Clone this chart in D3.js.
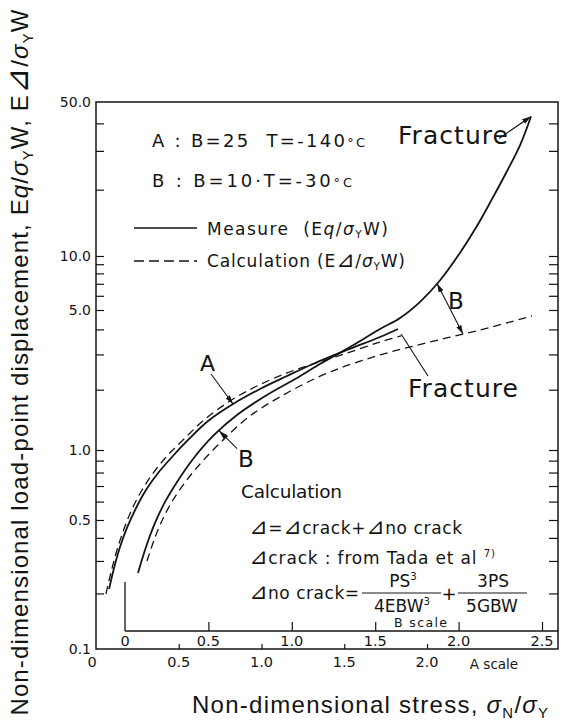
<!DOCTYPE html>
<html>
<head>
<meta charset="utf-8">
<script src="https://cdn.jsdelivr.net/npm/d3@7"></script>
<style>
  html, body { margin: 0; padding: 0; background: #fff; }
  svg { display: block; }
  text { fill: #141414; font-family: "DejaVu Sans", "Noto Sans CJK JP", sans-serif; }
</style>
</head>
<body>
<svg id="chart" width="565" height="722"></svg>
<script>
// Case A (B=25, T=-140°C) read on the A scale; case B (B=10, T=-30°C) on the B scale.
// y: Eq/σYW (measured) or E⊿/σYW (calculated)
const aMeasureX = [0.079, 0.109, 0.145, 0.187, 0.242, 0.302, 0.375, 0.459, 0.556, 0.677, 0.828, 0.991, 1.154, 1.311, 1.517, 1.716, 1.825];
const aMeasureY = [0.211, 0.275, 0.357, 0.453, 0.563, 0.673, 0.796, 0.933, 1.122, 1.396, 1.697, 2.016, 2.341, 2.688, 3.157, 3.667, 4.019];

const aCalcX = [0.060, 0.091, 0.127, 0.169, 0.218, 0.278, 0.350, 0.435, 0.532, 0.653, 0.810, 0.973, 1.154, 1.311, 1.517, 1.716, 1.843];
const aCalcY = [0.199, 0.261, 0.344, 0.447, 0.558, 0.673, 0.804, 0.952, 1.135, 1.412, 1.757, 2.087, 2.424, 2.688, 3.050, 3.461, 3.709];

const bMeasureX = [0.078, 0.126, 0.180, 0.240, 0.312, 0.408, 0.528, 0.671, 0.851, 1.031, 1.169, 1.349, 1.529, 1.649, 1.769, 1.888, 2.008, 2.110, 2.200, 2.290, 2.368, 2.434];
const bMeasureY = [0.258, 0.357, 0.482, 0.598, 0.729, 0.915, 1.175, 1.495, 1.882, 2.288, 2.688, 3.268, 4.019, 4.560, 5.553, 7.305, 10.33, 13.68, 18.11, 24.25, 31.76, 42.99];

const bCalcX = [0.132, 0.168, 0.210, 0.270, 0.348, 0.450, 0.582, 0.749, 0.971, 1.229, 1.529, 1.829, 2.128, 2.440];
const bCalcY = [0.300, 0.375, 0.470, 0.580, 0.707, 0.871, 1.109, 1.478, 1.926, 2.452, 2.981, 3.461, 3.973, 4.667];

// Axis ticks
const yLabelValues = [0.1, 0.5, 1, 5, 10, 50];
const yLabelTexts = ["0.1", "0.5", "1.0", "5.0", "10.0", "50.0"];
const yMinorValues = [0.2, 0.3, 0.4, 0.6, 0.7, 0.8, 0.9, 2, 3, 4, 6, 7, 8, 9, 20, 30, 40];
const aScaleValues = [0, 0.5, 1, 1.5, 2];
const aScaleTexts = ["0", "0.5", "1.0", "1.5", "2.0"];
const bScaleValues = [0, 0.5, 1, 1.5, 2, 2.5];
const bScaleTexts = ["0", "0.5", "1.0", "1.5", "2.0", "2.5"];

const svg = d3.select("#chart");
const frame = { left: 96, right: 558, top: 102, bottom: 649 };
const bAxisY = 631;

// hand-drawn log axis: each labelled segment placed on its own
const y = d3.scaleLog()
  .domain(yLabelValues)
  .range([frame.bottom, 520, 450, 310, 256, frame.top]);
const xA = d3.scaleLinear().domain([0, 2]).range([frame.left, 427]);
const xB = d3.scaleLinear().domain([0, 2.5]).range([125, 542]);

// ---------- helpers ----------
function fitWidth(t, w) {
  const node = t.node();
  const n = node.getNumberOfChars();
  const cur = node.getComputedTextLength();
  if (n > 1) t.style("letter-spacing", ((w - cur) / (n - 1)) + "px");
}
// parts: plain strings or [string, kind]; "⊿" is split out and enlarged
function rich(parent, x, yy, size, parts, opt = {}) {
  const t = parent.append("text").attr("x", x).attr("y", yy)
    .attr("font-size", size).style("white-space", "pre");
  if (opt.family) t.style("font-family", opt.family);
  if (opt.anchor) t.attr("text-anchor", opt.anchor);
  const flat = [];
  parts.forEach(p => {
    const [s, kind = ""] = Array.isArray(p) ? p : [p, ""];
    s.split(/(⊿)/).filter(q => q.length).forEach(q => flat.push([q, q === "⊿" ? kind + " delta" : kind]));
  });
  let shift = 0;
  flat.forEach(([s, kind]) => {
    const sp = t.append("tspan").text(s);
    let target = 0;
    if (kind.includes("sub")) { sp.attr("font-size", size * 0.62); target = size * 0.2; }
    if (kind.includes("sup")) { sp.attr("font-size", size * 0.6); target = -size * 0.4; }
    if (kind.includes("small")) sp.attr("font-size", size * 0.72);
    if (kind.includes("delta")) sp.attr("font-size", size * 1.3).style("font-style", "italic");
    if (kind.includes("ital")) sp.style("font-style", "italic");
    if (target !== shift) sp.attr("dy", target - shift);
    shift = target;
  });
  if (opt.width) fitWidth(t, opt.width);
  return t;
}
function valueAt(xs, ys, xv) {
  const i = Math.max(1, Math.min(xs.length - 1, d3.bisectLeft(xs, xv)));
  const t = (xv - xs[i - 1]) / (xs[i] - xs[i - 1]);
  return Math.pow(10, Math.log10(ys[i - 1]) + t * (Math.log10(ys[i]) - Math.log10(ys[i - 1])));
}

// arrowhead
const defs = svg.append("defs");
defs.append("marker").attr("id", "arrow")
  .attr("viewBox", "0 0 10 6").attr("refX", 10).attr("refY", 3)
  .attr("markerUnits", "userSpaceOnUse").attr("markerWidth", 9).attr("markerHeight", 5.5)
  .attr("orient", "auto-start-reverse")
  .append("path").attr("d", "M0,0 L10,3 L0,6 Z").attr("fill", "#141414");

const ink = "#141414";

// ---------- frame and axes ----------
svg.append("rect")
  .attr("x", frame.left).attr("y", frame.top)
  .attr("width", frame.right - frame.left).attr("height", frame.bottom - frame.top)
  .attr("fill", "none").attr("stroke", ink).attr("stroke-width", 1.5);

const allY = yLabelValues.concat(yMinorValues).filter(v => v > 0.1 && v < 50);
const leftAxis = svg.append("g").attr("transform", `translate(${frame.left},0)`)
  .call(d3.axisRight(y).tickValues(allY).tickSize(8).tickFormat(""));
const rightAxis = svg.append("g").attr("transform", `translate(${frame.right},0)`)
  .call(d3.axisLeft(y).tickValues(allY).tickSize(9).tickFormat(""));
[leftAxis, rightAxis].forEach(g => {
  g.select(".domain").remove();
  g.selectAll("line").attr("stroke", ink).attr("stroke-width", 1.2);
});

svg.append("g").selectAll("text").data(yLabelValues).join("text")
  .attr("x", 91).attr("y", d => y(d) + 5)
  .attr("text-anchor", "end").attr("font-size", 14)
  .text((d, i) => yLabelTexts[i]);

// A scale on the bottom frame line
const aAxis = svg.append("g").attr("transform", `translate(0,${frame.bottom})`)
  .call(d3.axisTop(xA).tickValues(aScaleValues.slice(1)).tickSize(5).tickFormat(""));
aAxis.select(".domain").remove();
aAxis.selectAll("line").attr("stroke", ink).attr("stroke-width", 1.2);
svg.append("g").selectAll("text").data(aScaleValues).join("text")
  .attr("x", d => xA(d) - (d === 0 ? 4 : 0)).attr("y", 667)
  .attr("text-anchor", "middle").attr("font-size", 14.5)
  .text((d, i) => aScaleTexts[i]);
svg.append("text").attr("x", 494).attr("y", 669).attr("text-anchor", "middle")
  .attr("font-size", 13.5).text("A scale");

// B scale, drawn inside the frame
svg.append("line").attr("x1", xB(0)).attr("x2", frame.right)
  .attr("y1", bAxisY).attr("y2", bAxisY).attr("stroke", ink).attr("stroke-width", 1.3);
svg.append("line").attr("x1", xB(0)).attr("x2", xB(0))
  .attr("y1", 582).attr("y2", bAxisY).attr("stroke", ink).attr("stroke-width", 1.3);
const bAxis = svg.append("g").attr("transform", `translate(0,${bAxisY})`)
  .call(d3.axisTop(xB).tickValues(bScaleValues.slice(1)).tickSize(9).tickFormat(""));
bAxis.select(".domain").remove();
bAxis.selectAll("line").attr("stroke", ink).attr("stroke-width", 1.2);
svg.append("g").selectAll("text").data(bScaleValues).join("text")
  .attr("x", d => xB(d)).attr("y", 646)
  .attr("text-anchor", "middle").attr("font-size", 14.5)
  .text((d, i) => bScaleTexts[i]);
rich(svg, 394, 627, 12.5, ["B scale"], { width: 53 });

// ---------- curves ----------
const curve = d3.curveCatmullRom.alpha(0.5);
const lineA = d3.line().x(d => xA(d[0])).y(d => y(d[1])).curve(curve);
const lineB = d3.line().x(d => xB(d[0])).y(d => y(d[1])).curve(curve);
const series = [
  { pts: d3.zip(aCalcX, aCalcY), gen: lineA, dash: true },
  { pts: d3.zip(bCalcX, bCalcY), gen: lineB, dash: true },
  { pts: d3.zip(aMeasureX, aMeasureY), gen: lineA, dash: false },
  { pts: d3.zip(bMeasureX, bMeasureY), gen: lineB, dash: false }
];
svg.append("g").selectAll("path").data(series).join("path")
  .attr("d", d => d.gen(d.pts))
  .attr("fill", "none").attr("stroke", ink)
  .attr("stroke-width", d => d.dash ? 1.3 : 1.8)
  .attr("stroke-dasharray", d => d.dash ? "8,5" : null)
  .attr("stroke-linecap", "butt");

// ---------- annotations ----------
const ann = svg.append("g");
function arrow(x1, y1, x2, y2, both) {
  const l = ann.append("line").attr("x1", x1).attr("y1", y1).attr("x2", x2).attr("y2", y2)
    .attr("stroke", ink).attr("stroke-width", 1.1).attr("marker-end", "url(#arrow)");
  if (both) l.attr("marker-start", "url(#arrow)");
}

// final point of case B measurement: fracture
const bEnd = [xB(bMeasureX.at(-1)), y(bMeasureY.at(-1))];
rich(ann, 398, 144, 25, ["Fracture"], { width: 110 });
arrow(bEnd[0] - 32, bEnd[1] + 22, bEnd[0], bEnd[1]);

// final point of case A measurement: fracture
const aEnd = [xA(aMeasureX.at(-1)), y(aMeasureY.at(-1))];
rich(ann, 408, 397, 25, ["Fracture"], { width: 110 });
ann.append("line").attr("x1", aEnd[0] + 3).attr("y1", aEnd[1] + 5)
  .attr("x2", 428).attr("y2", 376).attr("stroke", ink).attr("stroke-width", 1.1);

// label A pointing at the A pair
const aTipX = 0.828;
const aTip = [xA(aTipX), y(valueAt(aMeasureX, aMeasureY, aTipX))];
rich(ann, aTip[0] - 33, aTip[1] - 33, 22, ["A"]);
arrow(aTip[0] - 22, aTip[1] - 30, aTip[0], aTip[1]);

// label B pointing at the B pair
const bTipX = 0.564;
const bTip = [xB(bTipX), y(valueAt(bMeasureX, bMeasureY, bTipX))];
rich(ann, bTip[0] + 19, bTip[1] + 36, 23, ["B"]);
arrow(bTip[0] + 18, bTip[1] + 18, bTip[0], bTip[1]);

// gap between measured and calculated for case B
const gTopX = 1.871, gBotX = 2.026;
const gTop = [xB(gTopX), y(valueAt(bMeasureX, bMeasureY, gTopX))];
const gBot = [xB(gBotX), y(valueAt(bCalcX, bCalcY, gBotX))];
arrow(gTop[0], gTop[1], gBot[0], gBot[1], true);
rich(ann, gTop[0] + 11, gTop[1] + 25, 23, ["B"]);

// ---------- legend ----------
const leg = svg.append("g");
rich(leg, 152, 147, 18, ["A : B=25  T=-140", ["°C", "small"]], { width: 213 });
rich(leg, 152, 187, 18, ["B : B=10·T=-30", ["°C", "small"]], { width: 200 });
leg.append("line").attr("x1", 134).attr("x2", 197).attr("y1", 228).attr("y2", 228)
  .attr("stroke", ink).attr("stroke-width", 1.6);
leg.append("line").attr("x1", 134).attr("x2", 197).attr("y1", 261).attr("y2", 261)
  .attr("stroke", ink).attr("stroke-width", 1.4).attr("stroke-dasharray", "10,5");
rich(leg, 207, 235, 17, ["Measure  (E", ["q", "ital"], "/", ["σ", "ital"], ["Y", "sub"], "W)"], { width: 181 });
rich(leg, 207, 267, 17, ["Calculation (E⊿/", ["σ", "ital"], ["Y", "sub"], "W)"], { width: 198 });

// ---------- calculation note ----------
const note = svg.append("g");
rich(note, 241, 498, 18.5, ["Calculation"], { width: 101 });
rich(note, 249, 534, 17, ["⊿=⊿crack+⊿no crack"], { width: 213 });
rich(note, 249, 564, 17, ["⊿crack : from Tada et al ", ["7)", "sup"]], { width: 246 });
rich(note, 249, 599, 17, ["⊿no crack="], { width: 110 });
// fractions
rich(note, 403, 587, 17, ["PS", ["3", "sup"]], { anchor: "middle" });
note.append("line").attr("x1", 362).attr("x2", 441).attr("y1", 593).attr("y2", 593)
  .attr("stroke", ink).attr("stroke-width", 1.1);
rich(note, 402, 612, 17, ["4EBW", ["3", "sup"]], { anchor: "middle" });
rich(note, 449, 600, 18, ["+"], { anchor: "middle" });
rich(note, 493, 587, 17, ["3PS"], { anchor: "middle" });
note.append("line").attr("x1", 458).attr("x2", 527).attr("y1", 593).attr("y2", 593)
  .attr("stroke", ink).attr("stroke-width", 1.1);
rich(note, 492, 612, 17, ["5GBW"], { anchor: "middle" });

// ---------- axis titles ----------
const titleFont = "'Liberation Sans', Arial, 'DejaVu Sans', sans-serif";
rich(svg, 192, 713, 24, ["Non-dimensional stress, ", ["σ", "ital"], ["N", "sub"], "/", ["σ", "ital"], ["Y", "sub"]],
  { family: titleFont, width: 356 });
const yTitle = svg.append("g").attr("transform", "translate(28,362) rotate(-90)");
rich(yTitle, 0, 0, 24,
  ["Non-dimensional load-point displacement, E", ["q", "ital"], "/", ["σ", "ital"], ["Y", "sub"], "W, E⊿/", ["σ", "ital"], ["Y", "sub"], "W"],
  { family: titleFont, anchor: "middle", width: 706 });
</script>
</body>
</html>
